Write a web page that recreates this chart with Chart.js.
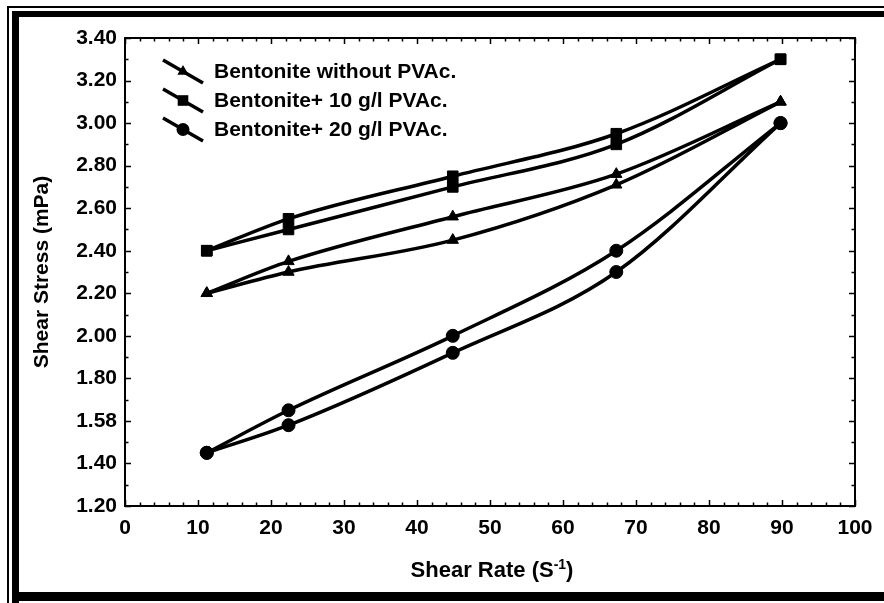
<!DOCTYPE html>
<html>
<head>
<meta charset="utf-8">
<script src="https://cdn.jsdelivr.net/npm/chart.js"></script>
<style>
  html, body { margin: 0; padding: 0; background: #fff; }
</style>
</head>
<body>
<canvas id="myChart" width="884" height="603"></canvas>
<script>
// shear rate (x) and the up / down branches of each hysteresis loop
const shearRate = [11.2, 22.4, 44.9, 67.3, 89.8];
const noPvacUp = [2.20, 2.35, 2.56, 2.76, 3.10];
const noPvacDown = [2.20, 2.30, 2.45, 2.71, 3.10];
const pvac10Up = [2.40, 2.55, 2.75, 2.95, 3.30];
const pvac10Down = [2.40, 2.50, 2.70, 2.90, 3.30];
const pvac20Up = [1.45, 1.65, 2.00, 2.40, 3.00];
const pvac20Down = [1.45, 1.58, 1.92, 2.30, 3.00];

const seriesNames = ["Bentonite without PVAc.", "Bentonite+ 10 g/l PVAc.", "Bentonite+ 20 g/l PVAc."];
const seriesMarkers = ["triangle", "rect", "circle"];
const yTickLabels = ["1.20", "1.40", "1.58", "1.80", "2.00", "2.20", "2.40", "2.60", "2.80", "3.00", "3.20", "3.40"];
const xTickLabels = ["0", "10", "20", "30", "40", "50", "60", "70", "80", "90", "100"];

const FONT = "'Liberation Sans', Arial, sans-serif";

function toPoints(ys) {
  return shearRate.map((x, i) => ({ x: x, y: ys[i] }));
}

function markerRadius(style) {
  return style === "rect" ? 7.5 : 6.5;
}

function makeSet(name, ys, style) {
  return {
    label: name,
    data: toPoints(ys),
    borderColor: "#000",
    backgroundColor: "#000",
    borderWidth: 3.5,
    pointStyle: style,
    pointRadius: markerRadius(style),
    pointBorderWidth: 1,
    pointBorderColor: "#000",
    pointBackgroundColor: "#000",
    cubicInterpolationMode: "monotone",
    fill: false
  };
}

function drawMarker(ctx, style, x, y, r) {
  ctx.beginPath();
  if (style === "circle") {
    ctx.arc(x, y, r, 0, Math.PI * 2);
  } else if (style === "rect") {
    const s = r * Math.SQRT1_2;
    ctx.rect(x - s, y - s, 2 * s, 2 * s);
  } else {
    for (let k = 0; k < 3; k++) {
      const a = k * 2 * Math.PI / 3;
      const px = x + Math.sin(a) * r, py = y - Math.cos(a) * r;
      if (k === 0) ctx.moveTo(px, py); else ctx.lineTo(px, py);
    }
    ctx.closePath();
  }
  ctx.fill();
}

// white page with the double frame
const framePlugin = {
  id: "frame",
  beforeDraw(chart) {
    const ctx = chart.ctx;
    ctx.save();
    ctx.fillStyle = "#fff";
    ctx.fillRect(0, 0, chart.width, chart.height);
    ctx.fillStyle = "#000";
    ctx.fillRect(7, 6, 2, chart.height - 6);
    ctx.fillRect(7, 6, chart.width - 7, 2);
    ctx.fillRect(12, 11, 7, chart.height - 11);
    ctx.fillRect(12, 11, chart.width - 12, 6);
    ctx.fillRect(12, 592, chart.width - 12, 9);
    ctx.restore();
  }
};

// boxed plot area with inward major and minor ticks
const boxPlugin = {
  id: "box",
  beforeDatasetsDraw(chart) {
    const { ctx, chartArea: a, scales } = chart;
    const xs = scales.x, ys = scales.y;
    ctx.save();
    ctx.strokeStyle = "#000";
    ctx.lineWidth = 2;
    ctx.strokeRect(a.left, a.top, a.right - a.left, a.bottom - a.top);
    ctx.lineWidth = 1.5;
    ctx.beginPath();
    for (let v = 0; v <= 100.001; v += 2) {
      const px = Math.round(xs.getPixelForValue(v)) + 0.5;
      const len = Math.abs(v % 10) < 0.01 ? 6 : 3.5;
      ctx.moveTo(px, a.bottom); ctx.lineTo(px, a.bottom - len);
      ctx.moveTo(px, a.top); ctx.lineTo(px, a.top + len);
    }
    for (let k = 0; k <= 22; k++) {
      const v = 1.2 + k * 0.1;
      const py = Math.round(ys.getPixelForValue(v)) + 0.5;
      const len = k % 2 === 0 ? 6 : 3.5;
      ctx.moveTo(a.left, py); ctx.lineTo(a.left + len, py);
      ctx.moveTo(a.right, py); ctx.lineTo(a.right - len, py);
    }
    ctx.stroke();
    ctx.restore();
  }
};

// legend inside the plot and the x title with its superscript
const legendPlugin = {
  id: "legendInside",
  afterDraw(chart) {
    const ctx = chart.ctx;
    ctx.save();
    ctx.strokeStyle = "#000";
    ctx.fillStyle = "#000";
    seriesNames.forEach((name, i) => {
      const y0 = 60 + i * 29;
      ctx.lineWidth = 3.5;
      ctx.beginPath();
      ctx.moveTo(163, y0);
      ctx.lineTo(203, y0 + 23);
      ctx.stroke();
      drawMarker(ctx, seriesMarkers[i], 183, y0 + 11.5, markerRadius(seriesMarkers[i]));
      ctx.font = "bold 21px " + FONT;
      ctx.textBaseline = "middle";
      ctx.textAlign = "left";
      ctx.fillText(name, 214, y0 + 12);
    });

    const main = "Shear Rate (S", sup = "-1", tail = ")";
    ctx.textBaseline = "alphabetic";
    ctx.font = "bold 22px " + FONT;
    const w1 = ctx.measureText(main).width, w3 = ctx.measureText(tail).width;
    ctx.font = "bold 14px " + FONT;
    const w2 = ctx.measureText(sup).width;
    let x = 492 - (w1 + w2 + w3) / 2;
    const base = 577;
    ctx.font = "bold 22px " + FONT;
    ctx.fillText(main, x, base);
    ctx.font = "bold 14px " + FONT;
    ctx.fillText(sup, x + w1, base - 8);
    ctx.font = "bold 22px " + FONT;
    ctx.fillText(tail, x + w1 + w2, base);
    ctx.restore();
  }
};

const ctx = document.getElementById("myChart").getContext("2d");
new Chart(ctx, {
  type: "line",
  data: {
    datasets: [
      makeSet(seriesNames[0], noPvacUp, "triangle"),
      makeSet(seriesNames[0], noPvacDown, "triangle"),
      makeSet(seriesNames[1], pvac10Up, "rect"),
      makeSet(seriesNames[1], pvac10Down, "rect"),
      makeSet(seriesNames[2], pvac20Up, "circle"),
      makeSet(seriesNames[2], pvac20Down, "circle")
    ]
  },
  options: {
    responsive: false,
    animation: false,
    devicePixelRatio: 1,
    layout: { padding: { left: 0, top: 38, right: 29, bottom: 0 } },
    plugins: {
      legend: { display: false },
      tooltip: { enabled: false }
    },
    scales: {
      x: {
        type: "linear",
        min: 0,
        max: 100,
        grid: { display: false, drawTicks: false },
        border: { display: false },
        ticks: {
          stepSize: 10,
          padding: 10,
          color: "#000",
          font: { family: FONT, size: 21, weight: "bold" },
          callback: v => xTickLabels[Math.round(v / 10)]
        },
        afterFit: s => { s.height = 97; }
      },
      y: {
        type: "linear",
        min: 1.2,
        max: 3.4,
        grid: { display: false, drawTicks: false },
        border: { display: false },
        ticks: {
          stepSize: 0.2,
          padding: 8,
          color: "#000",
          font: { family: FONT, size: 21, weight: "bold" },
          callback: v => yTickLabels[Math.round((v - 1.2) / 0.2)]
        },
        title: {
          display: true,
          text: "Shear Stress (mPa)",
          color: "#000",
          font: { family: FONT, size: 21, weight: "bold" },
          padding: { top: 30, bottom: 0 }
        },
        afterFit: s => { s.width = 125; }
      }
    }
  },
  plugins: [framePlugin, boxPlugin, legendPlugin]
});
</script>
</body>
</html>
